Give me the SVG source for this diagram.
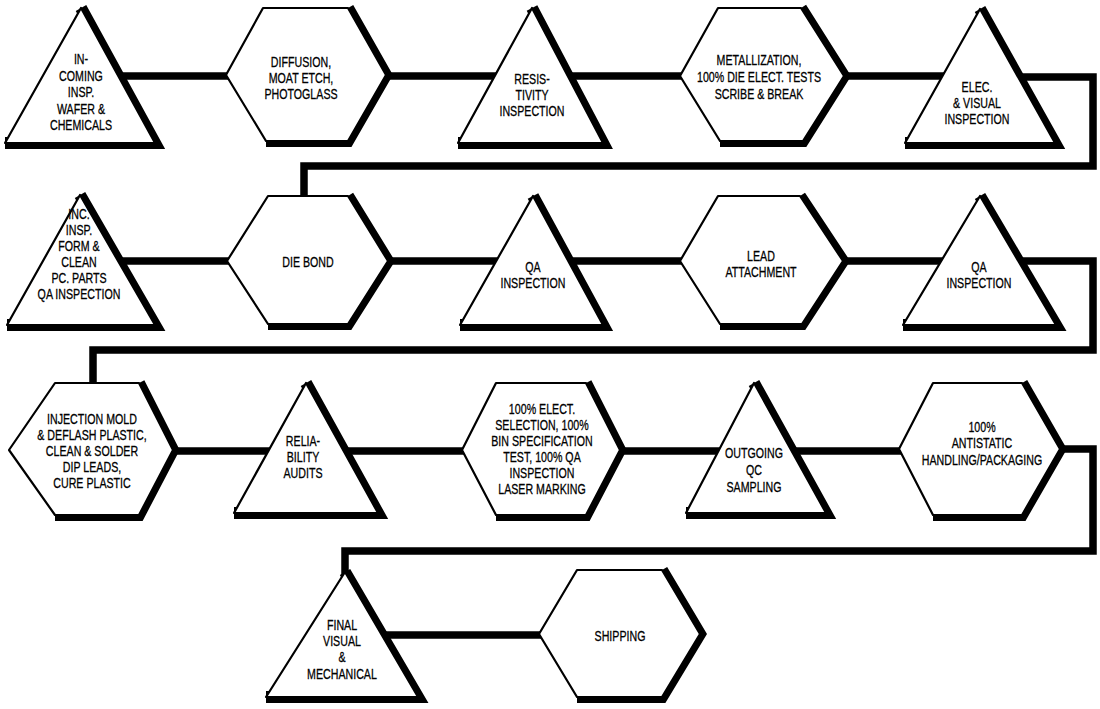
<svg xmlns="http://www.w3.org/2000/svg" width="1100" height="709" viewBox="0 0 1100 709">
<style>
.band{fill:none;stroke:#000;stroke-width:12;stroke-linejoin:miter;stroke-miterlimit:10}
.shape{fill:#fff;stroke:#000;stroke-width:2.2;stroke-linejoin:round}
.conn{fill:none;stroke:#000;stroke-width:7.5;stroke-linejoin:miter}
.lbl{font-family:"Liberation Sans",Arial,sans-serif;font-size:15px;fill:#000;stroke:#000;stroke-width:0.3;text-anchor:middle}
</style>
<rect width="1100" height="709" fill="#fff"/>
<g id="connectors">
<path class="conn" d="M100,76 H230"/>
<path class="conn" d="M380,76 H510"/>
<path class="conn" d="M560,76 H683"/>
<path class="conn" d="M840,76 H960"/>
<path class="conn" d="M1000,77 H1093 V166 H304 V198"/>
<path class="conn" d="M100,261 H230"/>
<path class="conn" d="M383,261 H510"/>
<path class="conn" d="M555,261 H683"/>
<path class="conn" d="M838,261 H960"/>
<path class="conn" d="M1000,261 H1093 V350 H93 V386"/>
<path class="conn" d="M170,451 H280"/>
<path class="conn" d="M320,451 H465"/>
<path class="conn" d="M617,451 H740"/>
<path class="conn" d="M770,451 H902"/>
<path class="conn" d="M1057,449 H1093 V551 H345 V575"/>
<path class="conn" d="M360,635 H542"/>
</g>
<g id="n1">
<path class="band" d="M81,8 L155,143 L5,143"/>
<polygon class="shape" points="81,8 155,143 5,143"/>
<text class="lbl" transform="translate(81 0) scale(.71 1)"><tspan x="0" y="64">IN-</tspan><tspan x="0" y="81">COMING</tspan><tspan x="0" y="97.5">INSP.</tspan><tspan x="0" y="114">WAFER &amp;</tspan><tspan x="0" y="130.5">CHEMICALS</tspan></text>
</g>
<g id="n2">
<path class="band" d="M348,8 L386,75 L348,141 L266,141"/>
<polygon class="shape" points="226,75 263,8 348,8 386,75 348,141 266,141"/>
<text class="lbl" transform="translate(301 0) scale(.71 1)"><tspan x="0" y="67">DIFFUSION,</tspan><tspan x="0" y="83">MOAT ETCH,</tspan><tspan x="0" y="99">PHOTOGLASS</tspan></text>
</g>
<g id="n3">
<path class="band" d="M532,8 L603,143 L458,143"/>
<polygon class="shape" points="532,8 603,143 458,143"/>
<text class="lbl" transform="translate(532 0) scale(.71 1)"><tspan x="0" y="84">RESIS-</tspan><tspan x="0" y="100">TIVITY</tspan><tspan x="0" y="116">INSPECTION</tspan></text>
</g>
<g id="n4">
<path class="band" d="M801,8 L844,76 L803,141 L720,141"/>
<polygon class="shape" points="680,76 718,8 801,8 844,76 803,141 720,141"/>
<text class="lbl" transform="translate(759 0) scale(.71 1)"><tspan x="0" y="65">METALLIZATION,</tspan><tspan x="0" y="82">100% DIE ELECT. TESTS</tspan><tspan x="0" y="99">SCRIBE &amp; BREAK</tspan></text>
</g>
<g id="n5">
<path class="band" d="M980,9 L1055,143 L905,143"/>
<polygon class="shape" points="980,9 1055,143 905,143"/>
<text class="lbl" transform="translate(977 0) scale(.71 1)"><tspan x="0" y="92">ELEC.</tspan><tspan x="0" y="108">&amp; VISUAL</tspan><tspan x="0" y="124">INSPECTION</tspan></text>
</g>
<g id="n6">
<path class="band" d="M80,195 L155,325 L7,325"/>
<polygon class="shape" points="80,195 155,325 7,325"/>
<text class="lbl" transform="translate(79 0) scale(.71 1)"><tspan x="0" y="219">INC.</tspan><tspan x="0" y="235">INSP.</tspan><tspan x="0" y="251">FORM &amp;</tspan><tspan x="0" y="267">CLEAN</tspan><tspan x="0" y="283">PC. PARTS</tspan><tspan x="0" y="299">QA INSPECTION</tspan></text>
</g>
<g id="n7">
<path class="band" d="M348,196 L388,261 L348,324 L268,324"/>
<polygon class="shape" points="227,261 268,196 348,196 388,261 348,324 268,324"/>
<text class="lbl" transform="translate(308 0) scale(.71 1)"><tspan x="0" y="267">DIE BOND</tspan></text>
</g>
<g id="n8">
<path class="band" d="M533,196 L603,325 L460,325"/>
<polygon class="shape" points="533,196 603,325 460,325"/>
<text class="lbl" transform="translate(533 0) scale(.71 1)"><tspan x="0" y="272">QA</tspan><tspan x="0" y="288">INSPECTION</tspan></text>
</g>
<g id="n9">
<path class="band" d="M800,196 L843,261 L802,324 L720,324"/>
<polygon class="shape" points="680,261 718,196 800,196 843,261 802,324 720,324"/>
<text class="lbl" transform="translate(761 0) scale(.71 1)"><tspan x="0" y="261">LEAD</tspan><tspan x="0" y="277">ATTACHMENT</tspan></text>
</g>
<g id="n10">
<path class="band" d="M980,196 L1056,325 L903,325"/>
<polygon class="shape" points="980,196 1056,325 903,325"/>
<text class="lbl" transform="translate(979 0) scale(.71 1)"><tspan x="0" y="272">QA</tspan><tspan x="0" y="288">INSPECTION</tspan></text>
</g>
<g id="n11">
<path class="band" d="M139,383 L173,450 L139,515 L55,515"/>
<polygon class="shape" points="9,450 55,383 139,383 173,450 139,515 55,515"/>
<text class="lbl" transform="translate(92 0) scale(.71 1)"><tspan x="0" y="424">INJECTION MOLD</tspan><tspan x="0" y="440">&amp; DEFLASH PLASTIC,</tspan><tspan x="0" y="456">CLEAN &amp; SOLDER</tspan><tspan x="0" y="472">DIP LEADS,</tspan><tspan x="0" y="488">CURE PLASTIC</tspan></text>
</g>
<g id="n12">
<path class="band" d="M306,383 L378,513 L234,513"/>
<polygon class="shape" points="306,383 378,513 234,513"/>
<text class="lbl" transform="translate(303 0) scale(.71 1)"><tspan x="0" y="446">RELIA-</tspan><tspan x="0" y="462">BILITY</tspan><tspan x="0" y="478">AUDITS</tspan></text>
</g>
<g id="n13">
<path class="band" d="M586,383 L620,450 L586,515 L496,515"/>
<polygon class="shape" points="462,450 496,383 586,383 620,450 586,515 496,515"/>
<text class="lbl" transform="translate(542 0) scale(.71 1)"><tspan x="0" y="414">100% ELECT.</tspan><tspan x="0" y="430">SELECTION, 100%</tspan><tspan x="0" y="446">BIN SPECIFICATION</tspan><tspan x="0" y="462">TEST, 100% QA</tspan><tspan x="0" y="478">INSPECTION</tspan><tspan x="0" y="494">LASER MARKING</tspan></text>
</g>
<g id="n14">
<path class="band" d="M754,383 L826,513 L686,513"/>
<polygon class="shape" points="754,383 826,513 686,513"/>
<text class="lbl" transform="translate(754 0) scale(.71 1)"><tspan x="0" y="458">OUTGOING</tspan><tspan x="0" y="475">QC</tspan><tspan x="0" y="492">SAMPLING</tspan></text>
</g>
<g id="n15">
<path class="band" d="M1022,383 L1060,449 L1022,515 L933,515"/>
<polygon class="shape" points="899,449 933,383 1022,383 1060,449 1022,515 933,515"/>
<text class="lbl" transform="translate(982 0) scale(.71 1)"><tspan x="0" y="432">100%</tspan><tspan x="0" y="448">ANTISTATIC</tspan><tspan x="0" y="465">HANDLING/PACKAGING</tspan></text>
</g>
<g id="n16">
<path class="band" d="M345,572 L418,697 L266,697"/>
<polygon class="shape" points="345,572 418,697 266,697"/>
<text class="lbl" transform="translate(342 0) scale(.71 1)"><tspan x="0" y="630">FINAL</tspan><tspan x="0" y="646">VISUAL</tspan><tspan x="0" y="662">&amp;</tspan><tspan x="0" y="679">MECHANICAL</tspan></text>
</g>
<g id="n17">
<path class="band" d="M662,570 L700,634 L662,697 L577,697"/>
<polygon class="shape" points="539,634 577,570 662,570 700,634 662,697 577,697"/>
<text class="lbl" transform="translate(620 0) scale(.71 1)"><tspan x="0" y="641">SHIPPING</tspan></text>
</g>
</svg>
